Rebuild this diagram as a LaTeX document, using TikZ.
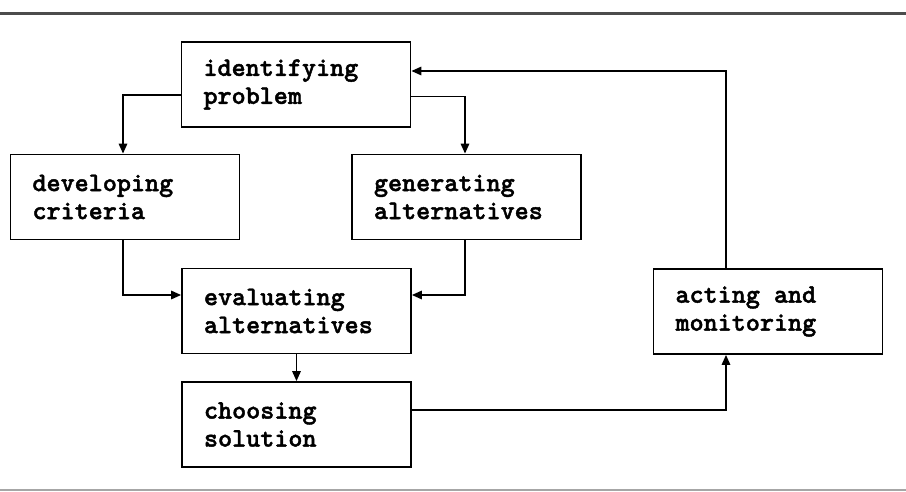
\documentclass[tikz,border=0pt]{standalone}
\usepackage{fontspec}
\newfontfamily\courb{lmmonolt10-bold.otf}[FakeBold=1.6]
\usetikzlibrary{arrows.meta}
\begin{document}
\begin{tikzpicture}[x=1pt,y=-1pt,
  box/.style={draw, line width=1.8pt, rectangle, minimum width=229pt, minimum height=85pt,
    text width=185pt, inner xsep=22pt, align=left,
    font=\courb\fontsize{26.8pt}{28pt}\selectfont},
  conn/.style={line width=1.6pt},
  arr/.style={conn, -{Triangle[length=10pt,width=8.5pt]}}]
\useasboundingbox (0,0) rectangle (906,492);
\draw[line width=3pt, gray!60!black] (0,13.5) -- (906,13.5);
\draw[line width=2pt, gray!70] (0,490) -- (906,490);
\node[box] (ident) at (296,84.5) {identifying\\problem};
\node[box] (devel) at (125,197) {developing\\criteria};
\node[box] (gener) at (466.5,197) {generating\\alternatives};
\node[box] (eval) at (296.5,311) {evaluating\\alternatives};
\node[box] (choose) at (296.5,424.5) {choosing\\solution};
\node[box] (act) at (768,311.5) {acting\phantom{a}and\\monitoring};
\draw[arr] ([yshift=-10.5pt]ident.west) -| ([xshift=-2pt]devel.north);
\draw[arr] ([yshift=-12pt]ident.east) -| ([xshift=-1.5pt]gener.north);
\draw[arr] ([xshift=-42pt]act.north) |- ([yshift=13.5pt]ident.east);
\draw[arr] ([xshift=-2pt]devel.south) |- ([yshift=16pt]eval.west);
\draw[arr] ([xshift=-1.5pt]gener.south) |- ([yshift=16pt]eval.east);
\draw[arr] (eval.south) -- (choose.north);
\draw[arr] ([yshift=14.5pt]choose.east) -| ([xshift=-42pt]act.south);
\end{tikzpicture}
\end{document}
